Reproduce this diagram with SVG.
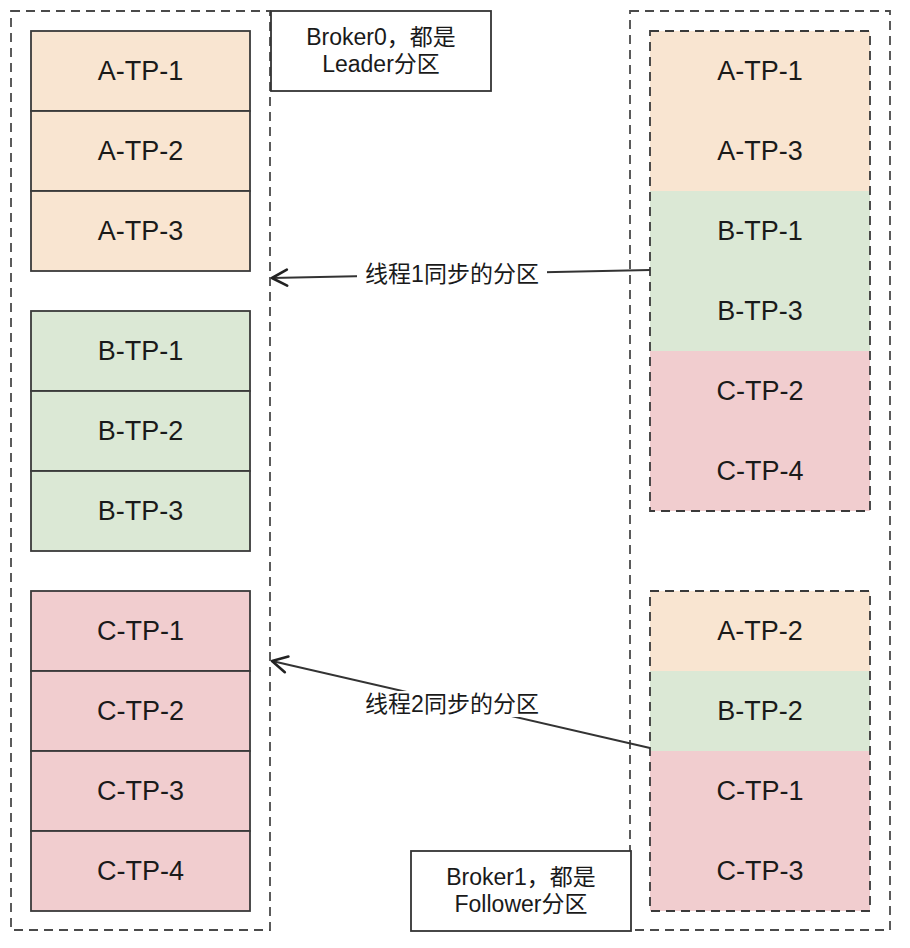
<svg xmlns="http://www.w3.org/2000/svg" width="910" height="948" viewBox="0 0 910 948">
<style>
.bg{fill:#ffffff}
.cont{fill:none;stroke:#4a4a4a;stroke-width:1.8;stroke-dasharray:9 6}
.cell{stroke:#3a3a3a;stroke-width:1.8}
.a{fill:#f9e5d1}
.b{fill:#dbe8d5}
.c{fill:#f1cdcf}
.grp{fill:none;stroke:#3a3a3a;stroke-width:1.8;stroke-dasharray:9 6}
.lbl{fill:#ffffff;stroke:#333;stroke-width:1.8}
.t{font-family:"Liberation Sans",Arial,"Noto Sans CJK SC",sans-serif;font-size:27px;fill:#1a1a1a;text-anchor:middle;dominant-baseline:central}
.s{font-family:"Liberation Sans",Arial,"Noto Sans CJK SC",sans-serif;font-size:23px;fill:#1a1a1a;text-anchor:middle;dominant-baseline:central}
.e{font-family:"Liberation Sans",Arial,"Noto Sans CJK SC",sans-serif;font-size:23px;fill:#1a1a1a;text-anchor:middle;dominant-baseline:central}
.edge{fill:none;stroke:#333;stroke-width:2}
</style>
<defs>
<marker id="arr" viewBox="0 0 20 20" refX="18" refY="10" markerWidth="20" markerHeight="20" markerUnits="userSpaceOnUse" orient="auto">
<path d="M3 2 L18 10 L3 18" fill="none" stroke="#222" stroke-width="2.6" stroke-linecap="round" stroke-linejoin="round"/>
</marker>
</defs>
<rect class="bg" x="0" y="0" width="910" height="948"/>

<g id="broker0">
<rect class="cont" x="11" y="11" width="259" height="919"/>
</g>
<g id="broker1">
<rect class="cont" x="630" y="11" width="260" height="919"/>
</g>

<g id="broker0-label">
<rect class="lbl" x="271" y="11" width="220" height="80"/>
<text class="s" x="381" y="37">Broker0，都是</text>
<text class="s" x="381" y="64">Leader分区</text>
</g>
<g id="broker1-label">
<rect class="lbl" x="411" y="851" width="220" height="80"/>
<text class="s" x="521" y="877">Broker1，都是</text>
<text class="s" x="521" y="904">Follower分区</text>
</g>

<g id="L-A-TP-1"><rect class="cell a" x="31" y="31" width="219" height="80"/><text class="t" x="140.5" y="71">A-TP-1</text></g>
<g id="L-A-TP-2"><rect class="cell a" x="31" y="111" width="219" height="80"/><text class="t" x="140.5" y="151">A-TP-2</text></g>
<g id="L-A-TP-3"><rect class="cell a" x="31" y="191" width="219" height="80"/><text class="t" x="140.5" y="231">A-TP-3</text></g>
<g id="L-B-TP-1"><rect class="cell b" x="31" y="311" width="219" height="80"/><text class="t" x="140.5" y="351">B-TP-1</text></g>
<g id="L-B-TP-2"><rect class="cell b" x="31" y="391" width="219" height="80"/><text class="t" x="140.5" y="431">B-TP-2</text></g>
<g id="L-B-TP-3"><rect class="cell b" x="31" y="471" width="219" height="80"/><text class="t" x="140.5" y="511">B-TP-3</text></g>
<g id="L-C-TP-1"><rect class="cell c" x="31" y="591" width="219" height="80"/><text class="t" x="140.5" y="631">C-TP-1</text></g>
<g id="L-C-TP-2"><rect class="cell c" x="31" y="671" width="219" height="80"/><text class="t" x="140.5" y="711">C-TP-2</text></g>
<g id="L-C-TP-3"><rect class="cell c" x="31" y="751" width="219" height="80"/><text class="t" x="140.5" y="791">C-TP-3</text></g>
<g id="L-C-TP-4"><rect class="cell c" x="31" y="831" width="219" height="80"/><text class="t" x="140.5" y="871">C-TP-4</text></g>

<g id="R-group1">
<rect class="a" x="650" y="31" width="220" height="160"/>
<rect class="b" x="650" y="191" width="220" height="160"/>
<rect class="c" x="650" y="351" width="220" height="160"/>
<rect class="grp" x="650" y="31" width="220" height="480"/>
<text class="t" x="760" y="71">A-TP-1</text>
<text class="t" x="760" y="151">A-TP-3</text>
<text class="t" x="760" y="231">B-TP-1</text>
<text class="t" x="760" y="311">B-TP-3</text>
<text class="t" x="760" y="391">C-TP-2</text>
<text class="t" x="760" y="471">C-TP-4</text>
</g>
<g id="R-group2">
<rect class="a" x="650" y="591" width="220" height="80"/>
<rect class="b" x="650" y="671" width="220" height="80"/>
<rect class="c" x="650" y="751" width="220" height="160"/>
<rect class="grp" x="650" y="591" width="220" height="320"/>
<text class="t" x="760" y="631">A-TP-2</text>
<text class="t" x="760" y="711">B-TP-2</text>
<text class="t" x="760" y="791">C-TP-1</text>
<text class="t" x="760" y="871">C-TP-3</text>
</g>

<g id="connectors">
<path class="edge" d="M650 270 L272 278" marker-end="url(#arr)"/>
<rect fill="#ffffff" x="357" y="261" width="190" height="26"/>
<text class="e" x="452" y="274">线程1同步的分区</text>
<path class="edge" d="M650 748 L272 661" marker-end="url(#arr)"/>
<rect fill="#ffffff" x="357" y="691" width="190" height="26"/>
<text class="e" x="452" y="704">线程2同步的分区</text>
</g>
</svg>
